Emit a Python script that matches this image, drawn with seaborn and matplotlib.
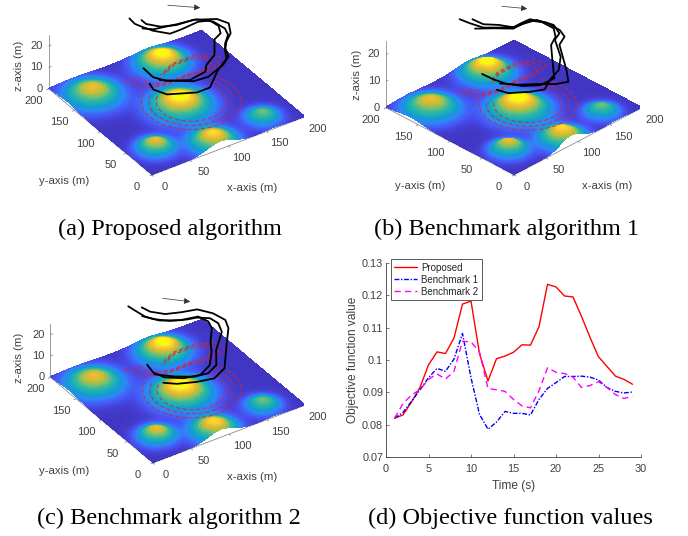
import numpy as np
import pandas as pd
import matplotlib
matplotlib.use('Agg')
import matplotlib.pyplot as plt
from matplotlib.colors import LinearSegmentedColormap
from mpl_toolkits.mplot3d import proj3d
import seaborn as sns

W, H = 688, 536

time_s = list(range(1, 30))
proposed = [.082, .083, .087, .0915, .0985, .1025, .102, .1068, .1173, .1182, .102, .0935, .1004, .1012, .1024,
            .1047, .1046, .1103, .1234, .1226, .1198, .1195, .1135, .107, .101, .098, .095, .094, .0925]
benchmark1 = [.082, .0838, .0872, .0908, .0945, .0974, .0965, .1003, .1082, .0945, .0832, .0786, .0808, .0841, .0835,
              .0835, .083, .0878, .0912, .093, .0949, .0949, .095, .0947, .0938, .0915, .0903, .0898, .0901]
benchmark2 = [.082, .0865, .0892, .0908, .094, .0957, .0941, .0965, .1058, .1056, .1025, .0912, .0908, .0903, .0878,
              .0858, .0852, .0905, .0976, .0962, .0958, .0947, .0915, .0921, .0933, .0915, .0893, .0881, .0888]

# terrain hills: centre x, centre y, height, width
hill_x = [128, 31, 98, 31, 89, 160]
hill_y = [170, 161, 91, 39, 13, 23]
hill_h = [5.5, 4.2, 5.5, 4.2, 4.8, 3.0]
hill_w = [17, 19, 20, 12.5, 16, 12]

# dashed ground tracks
arc_x, arc_y = 112, 90
arc_r = [38, 46, 54]
track_x = [82, 89, 110, 137, 160, 178, 178, 160, 135, 115]
track_y = [163, 141, 133, 134, 130, 135, 150, 160, 160, 150]
track_scale = [.85, 1, 1.15]

# flight paths at 20 m, one [x, y] pair per vehicle
paths_a = [
    ([102, 101, 105, 110, 122, 137, 160, 172, 174, 168, 156, 139, 121, 113, 90, 68, 60, 61],
     [195, 183, 172, 161, 146, 146, 148, 143, 129, 116, 110, 85, 74, 64, 60, 73, 87, 107]),
    ([111, 111, 121, 137, 158, 180, 186, 177, 164, 156, 150, 136, 110, 92, 77, 63],
     [185, 176, 163, 156, 154, 141, 127, 110, 99, 89, 74, 64, 54, 56, 67, 78]),
    ([103, 112, 138, 161, 174, 177, 173, 161, 154, 146, 126, 100, 83, 54, 47, 50],
     [171, 163, 157, 153, 139, 121, 109, 97, 87, 72, 59, 36, 36, 51, 67, 79])]
paths_b = [
    ([110, 112, 116, 129, 140, 153, 165, 170, 170, 159, 143, 122, 96, 75, 60, 50, 47, 46],
     [195, 181, 164, 151, 141, 141, 140, 127, 108, 94, 85, 62, 33, 34, 46, 64, 79, 96]),
    ([120, 121, 132, 140, 149, 163, 173, 172, 166, 150, 118, 102, 89, 74, 57, 46],
     [185, 169, 156, 141, 139, 138, 122, 100, 87, 79, 36, 17, 23, 38, 53, 68]),
    ([108, 123, 138, 151, 169, 175, 167, 154, 133, 112, 90, 72, 57, 38, 34],
     [169, 155, 139, 139, 134, 113, 96, 90, 60, 42, 34, 24, 32, 47, 61])]
paths_c = [
    ([101, 103, 105, 114, 133, 153, 157, 153, 137, 127, 111, 92, 73, 57, 52, 55],
     [198, 184, 171, 156, 144, 139, 125, 112, 91, 74, 54, 44, 49, 62, 77, 93]),
    ([112, 115, 126, 143, 160, 170, 174, 168, 148, 121, 101, 81, 61, 50],
     [188, 176, 163, 156, 151, 135, 117, 102, 76, 40, 30, 35, 44, 54]),
    ([103, 110, 123, 140, 151, 162, 164, 158, 133, 117, 101, 84, 66, 51],
     [174, 162, 149, 141, 138, 129, 116, 100, 74, 50, 42, 45, 58, 73])]

parula = LinearSegmentedColormap.from_list('parula', [
    (.2422, .1504, .6603), (.281, .3228, .9579), (.1786, .5289, .9682), (.078, .6, .835), (.1, .69, .7),
    (.2, .72, .63), (.45, .75, .45), (.7, .75, .25), (.9, .73, .2), (.99, .8, .2), (.976, .98, .055)])

sns.set_theme(style='white')
plt.rcParams['font.family'] = ['Liberation Sans', 'DejaVu Sans']
TXT = '#404040'

fig = plt.figure(figsize=(W / 100, H / 100), dpi=100)


def put_text(px, py, s, **kw):
    kw.setdefault('color', TXT)
    kw.setdefault('fontsize', 8)
    kw.setdefault('ha', 'center')
    kw.setdefault('va', 'center')
    fig.text(px / W, 1 - py / H, s, **kw)


def to_px(ax, x, y, z):
    vx, vy, _ = proj3d.proj_transform(x, y, z, ax.get_proj())
    dx, dy = ax.transData.transform((vx, vy))
    return dx, H - dy


def place_axes(ax, origin, right):
    # size and shift the square 3d axes so the floor corners land where they are in the picture
    size = 500.0
    ax.set_position([0, 0, size / W, size / H])
    ax.apply_aspect()
    a, b = np.array(to_px(ax, 0, 0, 0)), np.array(to_px(ax, 200, 0, 0))
    size *= np.hypot(*(np.array(right) - origin)) / np.hypot(*(b - a))
    ax.set_position([0, 0, size / W, size / H])
    ax.apply_aspect()
    a = np.array(to_px(ax, 0, 0, 0))
    ax.set_position([(origin[0] - a[0]) / W, (a[1] - origin[1]) / H, size / W, size / H])
    ax.apply_aspect()


def terrain():
    gx, gy = np.meshgrid(np.linspace(0, 200, 121), np.linspace(0, 200, 121))
    gz = np.full_like(gx, .2)
    for hx, hy, hh, hw in zip(hill_x, hill_y, hill_h, hill_w):
        gz += hh * np.exp(-((gx - hx) ** 2 + (gy - hy) ** 2) / (2 * hw ** 2))
    return gx, gy, gz


def terrain_panel(origin, right, az, el, zs, paths, xlab, ylab, zlab, arrow):
    ax = fig.add_axes([0, 0, .5, .5], projection='3d', proj_type='ortho', computed_zorder=False)
    ax.view_init(elev=el, azim=az)
    ax.set_box_aspect((1, 1, zs))
    ax.set_xlim(0, 200)
    ax.set_ylim(0, 200)
    ax.set_zlim(0, 25)
    ax.set_axis_off()
    ax.patch.set_visible(False)
    place_axes(ax, origin, right)

    line = dict(color='#8c8c8c', lw=.6, zorder=1)
    ax.plot([0, 200], [0, 0], [0, 0], **line)
    ax.plot([0, 0], [0, 200], [0, 0], **line)
    ax.plot([0, 0], [200, 200], [0, 25], **line)
    for t in range(0, 201, 50):
        ax.plot([t, t], [0, -3], [0, 0], **line)
        ax.plot([0, -3], [t, t], [0, 0], **line)
        px, py = to_px(ax, t, 0, 0)
        put_text(px + 13, py + 12, str(t))
        px, py = to_px(ax, 0, t, 0)
        put_text(px - 15, py + 12, str(t))
    for t in [0, 10, 20]:
        ax.plot([0, 3], [200, 200], [t, t], **line)
        px, py = to_px(ax, 0, 200, t)
        put_text(px - 6, py, str(t), ha='right')

    gx, gy, gz = terrain()
    ax.plot_surface(gx, gy, gz, cmap=parula, vmin=0, vmax=5.3, rstride=1, cstride=1, linewidth=0,
                    antialiased=False, shade=False, zorder=2)

    dash = dict(color='#e0202a', lw=.6, ls=(0, (5, 3)), zorder=3)
    t = np.radians(np.linspace(130, 390, 60))
    for r in arc_r:
        rx, ry = arc_x + r * np.cos(t), arc_y + r * np.sin(t)
        ax.plot(rx, ry, np.full_like(rx, 1), **dash)
    for k in track_scale:
        tx = 130 + k * (np.array(track_x) - 130)
        ty = 146 + k * (np.array(track_y) - 146)
        ax.plot(tx, ty, np.full_like(tx, 1.0), **dash)

    for px_, py_ in paths:
        ax.plot(px_, py_, [20] * len(px_), color='black', lw=1.3, zorder=4, solid_joinstyle='round')

    put_text(*xlab, 'x-axis (m)', fontsize=8.2)
    put_text(*ylab, 'y-axis (m)', fontsize=8.2)
    put_text(*zlab, 'z-axis (m)', fontsize=8.2, rotation=90)
    fig.add_artist(plt.Annotation('', xy=(arrow[2] / W, 1 - arrow[3] / H), xytext=(arrow[0] / W, 1 - arrow[1] / H),
                                  xycoords='figure fraction', textcoords='figure fraction',
                                  arrowprops=dict(arrowstyle='-|>', color='#333333', lw=.5, mutation_scale=9)))
    return ax


terrain_panel((152, 175), (305, 117), -124, 34.3, .352, paths_a, (252, 188), (64, 181), (19, 66), (165, 5, 203, 8))
terrain_panel((514, 175), (642, 108), -135, 31.7, .433, paths_b, (607, 186), (420, 186), (357, 75), (499, 6, 530, 9))
terrain_panel((153, 463), (305, 405), -124, 34.3, .352, paths_c, (252, 477), (64, 471), (19, 358), (160, 298, 193, 302))

put_text(170, 229, '(a) Proposed algorithm', color='black', fontsize=17.5, family=['Liberation Serif'])
put_text(507, 229, '(b) Benchmark algorithm 1', color='black', fontsize=17.5, family=['Liberation Serif'])
put_text(169, 518, '(c) Benchmark algorithm 2', color='black', fontsize=17.5, family=['Liberation Serif'])
put_text(510, 518, '(d) Objective function values', color='black', fontsize=17.5, family=['Liberation Serif'])

# objective function values
ax_d = fig.add_axes([386 / W, 1 - 457 / H, 255 / W, 194 / H])
df = pd.DataFrame({'time': time_s * 3,
                   'value': proposed + benchmark1 + benchmark2,
                   'series': ['Proposed'] * 29 + ['Benchmark 1'] * 29 + ['Benchmark 2'] * 29})
sns.lineplot(data=df, x='time', y='value', hue='series', style='series', ax=ax_d, linewidth=1,
             palette={'Proposed': 'red', 'Benchmark 1': 'blue', 'Benchmark 2': 'magenta'},
             dashes={'Proposed': '', 'Benchmark 1': (3.5, 1.2, 1, 1.2), 'Benchmark 2': (4.5, 3)})
ax_d.set_xlim(0, 30)
ax_d.set_ylim(.07, .13)
ax_d.set_xticks(range(0, 31, 5))
ax_d.set_yticks([.07, .08, .09, .1, .11, .12, .13])
ax_d.set_yticklabels(['0.07', '0.08', '0.09', '0.1', '0.11', '0.12', '0.13'])
ax_d.tick_params(direction='in', length=2.5, width=.5, labelsize=7.8, colors=TXT, pad=2, left=True, bottom=True)
ax_d.tick_params(axis='x', pad=5)
ax_d.set_xlabel('Time (s)', fontsize=8.6, color=TXT, labelpad=4)
ax_d.set_ylabel('Objective function value', fontsize=8.6, color=TXT, labelpad=2)
for side in ['top', 'right']:
    ax_d.spines[side].set_visible(False)
for side in ['left', 'bottom']:
    ax_d.spines[side].set_color(TXT)
    ax_d.spines[side].set_linewidth(.6)
leg = ax_d.legend(loc='upper left', bbox_to_anchor=(.018, 1.02), fontsize=7, frameon=True, fancybox=False, framealpha=1,
                  edgecolor=TXT, borderpad=.35, labelspacing=.22, handlelength=2.4, handletextpad=.4, borderaxespad=0)
leg.get_frame().set_linewidth(.6)

fig.savefig('out.png', dpi=100)
